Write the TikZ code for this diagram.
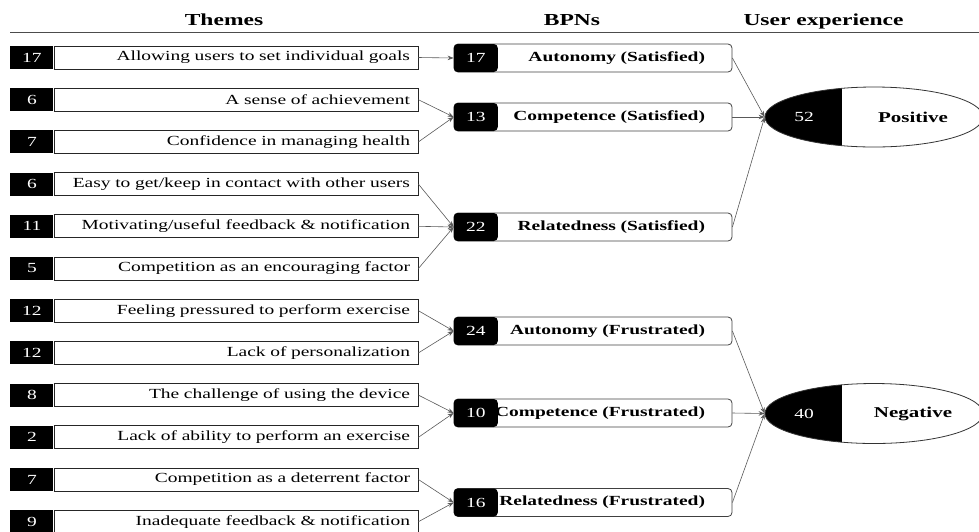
\documentclass[tikz,border=0pt]{standalone}
\usepackage{fontspec}
\setmainfont{Liberation Serif}[FakeStretch=1.4]
\usetikzlibrary{arrows.meta,positioning,shapes.geometric}

\tikzset{
  head/.style={anchor=base,font=\fontsize{16.8}{19}\selectfont\bfseries},
  theme/.style={draw=black!85,line width=0.8pt,minimum width=364pt,minimum height=23pt,
    text width=348pt,align=right,inner xsep=8pt,inner ysep=0pt,font=\fontsize{13.9}{15}\selectfont},
  themenum/.style={fill=black,text=white,minimum width=43pt,minimum height=23pt,
    inner sep=0pt,font=\fontsize{13.9}{15}\selectfont},
  bpn/.style={draw=black!75,line width=0.8pt,rounded corners=4pt,minimum width=278pt,minimum height=28pt,
    text width=224pt,align=right,inner xsep=27pt,inner ysep=0pt,font=\fontsize{13.9}{15}\selectfont\bfseries},
  bpnnum/.style={fill=black,text=white,rounded corners=4pt,minimum width=44pt,minimum height=28pt,
    inner sep=0pt,font=\fontsize{13.9}{15}\selectfont},
  ux/.style={ellipse,draw=black!80,line width=0.8pt,minimum width=218pt,minimum height=60pt,inner sep=0pt},
  link/.style={->,draw=black!65,line width=0.6pt}
}

\begin{document}
\begin{tikzpicture}[x=1pt,y=-1pt,>={Stealth[length=6pt,width=4.5pt]}]
\useasboundingbox (0,0) rectangle (979,531);

% Headers
\node[head] (hthemes) at (224,25) {Themes};
\node[head] (hbpn) at (572,25) {BPNs};
\node[head] (hux) at (823.5,25) {User experience};
\draw[black!70,line width=0.8pt] (10,32) -- (979,32);

% Theme boxes
\foreach \i/\n/\txt in {
  1/17/Allowing users to set individual goals,
  2/6/A sense of achievement,
  3/7/Confidence in managing health,
  4/6/{Easy to get/keep in contact with other users},
  5/11/{Motivating/useful feedback \& notification},
  6/5/Competition as an encouraging factor,
  7/12/Feeling pressured to perform exercise,
  8/12/Lack of personalization,
  9/8/The challenge of using the device,
  10/2/Lack of ability to perform an exercise,
  11/7/Competition as a deterrent factor,
  12/9/{Inadequate feedback \& notification}}{
  \pgfmathsetmacro{\y}{57.5+42.2*(\i-1)}
  \node[theme] (t\i) at (236,\y) {\txt};
  \node[themenum,left=0pt of t\i] (tn\i) {\n};
}

% BPN boxes
\foreach \name/\y/\n/\txt in {
  as/58/17/Autonomy (Satisfied),
  cs/117/13/Competence (Satisfied),
  rs/227/22/Relatedness (Satisfied),
  af/331/24/Autonomy (Frustrated),
  cf/413/10/Competence (Frustrated),
  rf/502.5/16/Relatedness (Frustrated)}{
  \node[bpn] (\name) at (593,\y) {\txt};
  \node[bpnnum,right=0pt of \name.west] (\name n) {\n};
}

% User experience
\foreach \name/\y/\n/\txt in {pos/117/52/Positive, neg/413.5/40/Negative}{
  \begin{scope}
    \clip (874,\y) ellipse [x radius=109pt,y radius=30pt];
    \fill[black] (760,\y-35) rectangle (842,\y+35);
  \end{scope}
  \node[ux] (\name) at (874,\y) {};
  \node[text=white,font=\fontsize{13.9}{15}\selectfont] (\name n) at (804,\y) {\n};
  \node[font=\fontsize{15}{17}\selectfont\bfseries] (\name t) at (913,\y) {\txt};
}

% Arrows
\foreach \a/\b in {1/as,2/cs,3/cs,4/rs,5/rs,6/rs,7/af,8/af,9/cf,10/cf,11/rf,12/rf}
  \draw[link] (t\a.east) -- (\b.west);
\foreach \a in {as,cs,rs}
  \draw[link] (\a.east) -- (pos.west);
\foreach \a in {af,cf,rf}
  \draw[link] (\a.east) -- (neg.west);
\end{tikzpicture}
\end{document}
